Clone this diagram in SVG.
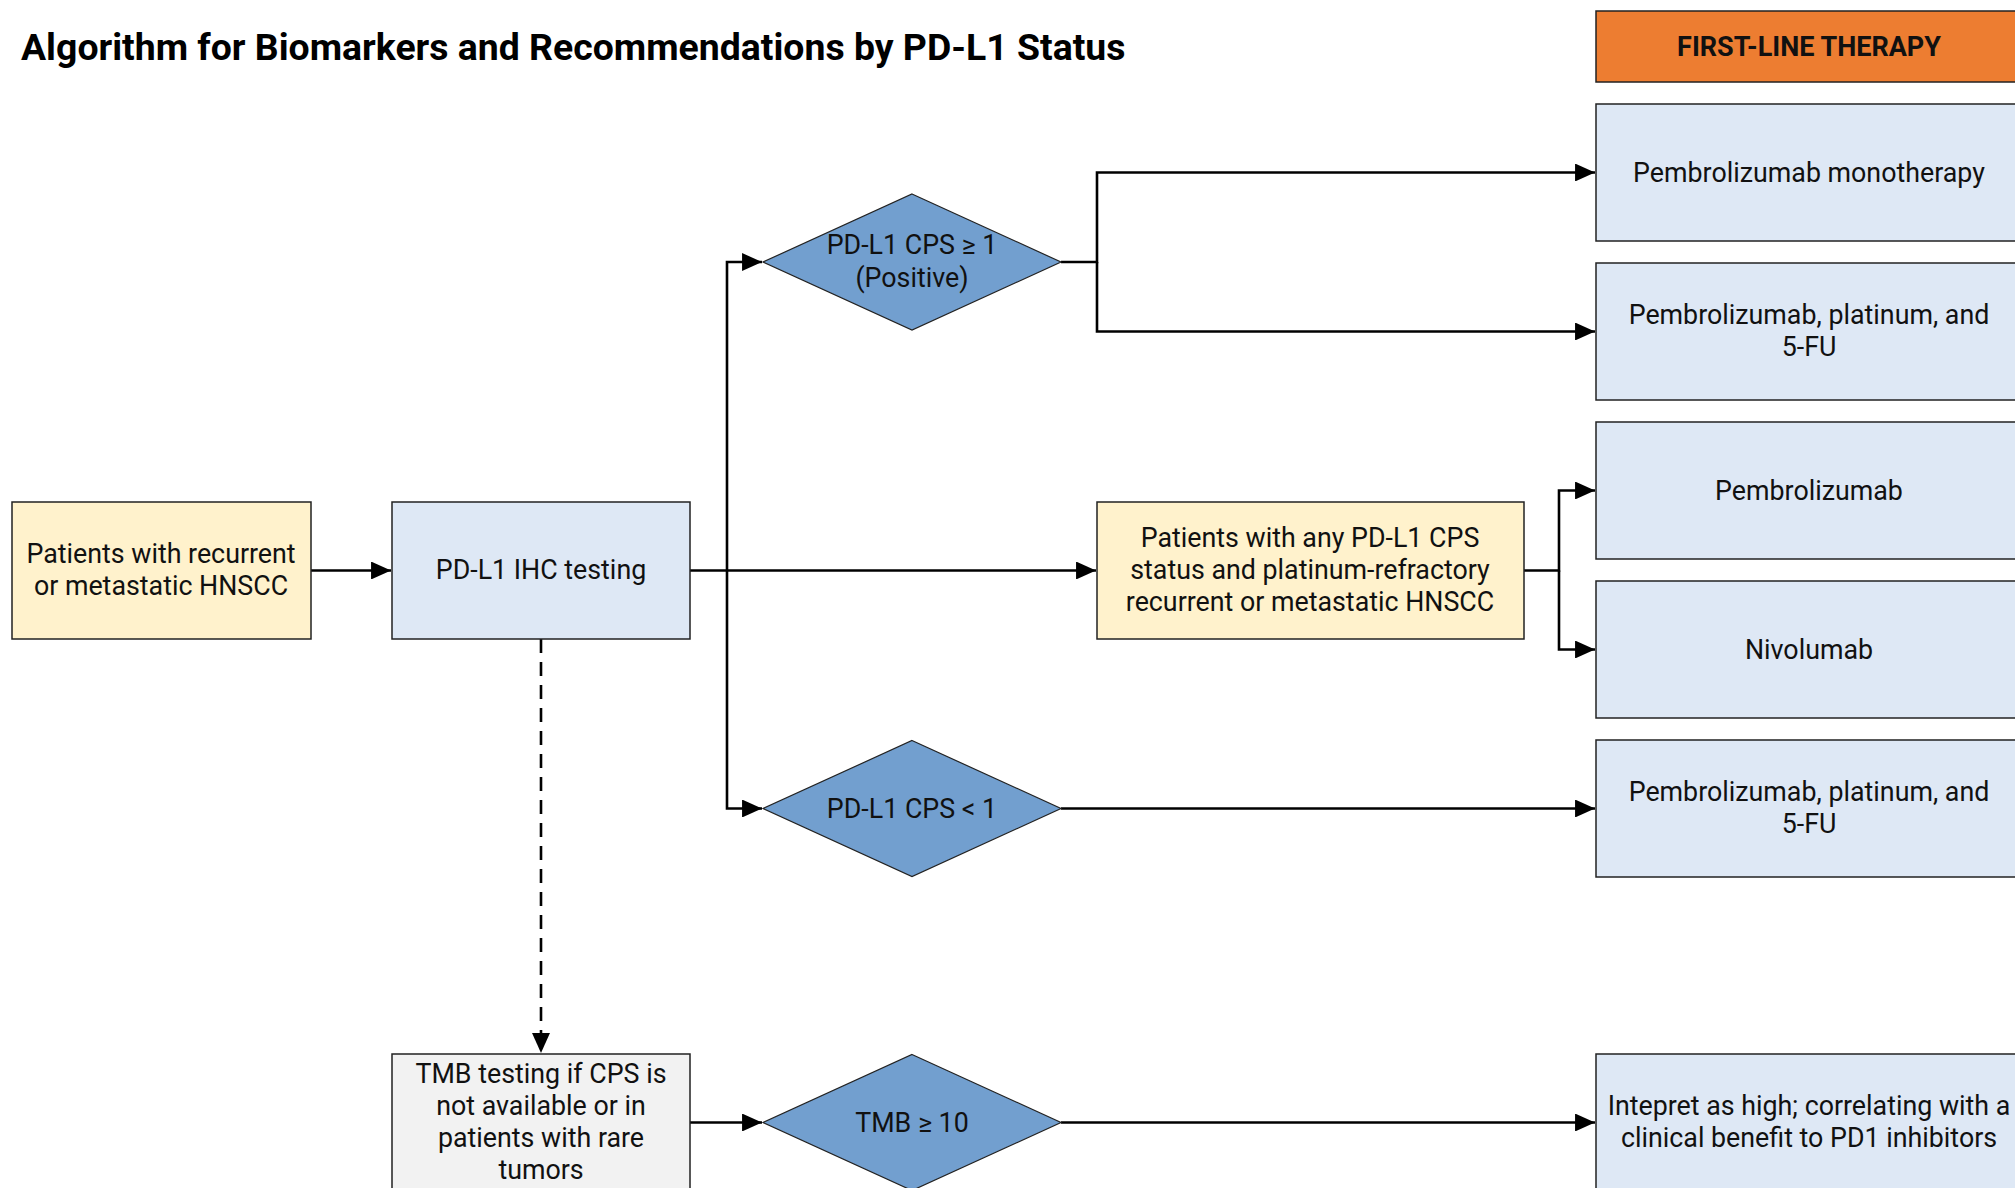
<svg xmlns="http://www.w3.org/2000/svg" width="2015" height="1188" viewBox="0 0 2015 1188">
<style>
.t{font-family:Roboto,"Liberation Sans",sans-serif;font-size:26.8px;fill:#111;text-anchor:middle}
.title{font-family:Roboto,"Liberation Sans",sans-serif;font-size:37.4px;font-weight:bold;fill:#000}
.hdr{font-family:Roboto,"Liberation Sans",sans-serif;font-size:27px;font-weight:bold;fill:#111;text-anchor:middle}
.blue{fill:#dee8f5;stroke:#222;stroke-width:1.5}
.yel{fill:#fff2cc;stroke:#222;stroke-width:1.5}
.grey{fill:#f2f2f2;stroke:#222;stroke-width:1.5}
.dia{fill:#729fcf;stroke:#222;stroke-width:1.2}
.c{fill:none;stroke:#000;stroke-width:2.6}
</style>
<defs>
<marker id="ah" viewBox="0 0 10 9" refX="10" refY="4.5" markerWidth="7.7" markerHeight="6.9" markerUnits="strokeWidth" orient="auto">
<path d="M0,0 L10,4.5 L0,9 z" fill="#000"/>
</marker>
</defs>
<rect width="2015" height="1188" fill="#fff"/>
<text class="title" x="21" y="60">Algorithm for Biomarkers and Recommendations by PD-L1 Status</text>

<g id="connectors">
<path class="c" d="M311,570.5 H391" marker-end="url(#ah)"/>
<path class="c" d="M690,570.5 H1096" marker-end="url(#ah)"/>
<path class="c" d="M727,570.5 V262 H762" marker-end="url(#ah)"/>
<path class="c" d="M727,570.5 V808.5 H762" marker-end="url(#ah)"/>
<path class="c" d="M1061,262 H1097 V172.5 H1595" marker-end="url(#ah)"/>
<path class="c" d="M1097,262 V331.5 H1595" marker-end="url(#ah)"/>
<path class="c" d="M1524,570.5 H1559 V490.5 H1595" marker-end="url(#ah)"/>
<path class="c" d="M1559,570.5 V649.5 H1595" marker-end="url(#ah)"/>
<path class="c" d="M1061,808.5 H1595" marker-end="url(#ah)"/>
<path class="c" d="M541,639 V1053" stroke-dasharray="14,9" marker-end="url(#ah)"/>
<path class="c" d="M690,1122.5 H762" marker-end="url(#ah)"/>
<path class="c" d="M1061,1122.5 H1595" marker-end="url(#ah)"/>
</g>

<g id="header">
<rect x="1596" y="11" width="430" height="71" fill="#ed7d31" stroke="#222" stroke-width="1.5"/>
<text class="hdr" x="1809" y="56">FIRST-LINE THERAPY</text>
</g>

<g id="start">
<rect class="yel" x="12" y="502" width="299" height="137"/>
<text class="t" x="161" y="563">Patients with recurrent</text>
<text class="t" x="161" y="595">or metastatic HNSCC</text>
</g>

<g id="ihc">
<rect class="blue" x="392" y="502" width="298" height="137"/>
<text class="t" x="541" y="579">PD-L1 IHC testing</text>
</g>

<g id="cps-pos">
<polygon class="dia" points="912,194 1061,262 912,330 763,262"/>
<text class="t" x="912" y="254">PD-L1 CPS ≥ 1</text>
<text class="t" x="912" y="287">(Positive)</text>
</g>

<g id="cps-neg">
<polygon class="dia" points="912,740.5 1061,808.5 912,876.5 763,808.5"/>
<text class="t" x="912" y="818">PD-L1 CPS &lt; 1</text>
</g>

<g id="any-cps">
<rect class="yel" x="1097" y="502" width="427" height="137"/>
<text class="t" x="1310" y="547">Patients with any PD-L1 CPS</text>
<text class="t" x="1310" y="579">status and platinum-refractory</text>
<text class="t" x="1310" y="611">recurrent or metastatic HNSCC</text>
</g>

<g id="tmb-test">
<rect class="grey" x="392" y="1054" width="298" height="150"/>
<text class="t" x="541" y="1083">TMB testing if CPS is</text>
<text class="t" x="541" y="1115">not available or in</text>
<text class="t" x="541" y="1147">patients with rare</text>
<text class="t" x="541" y="1179">tumors</text>
</g>

<g id="tmb">
<polygon class="dia" points="912,1054.5 1061,1122.5 912,1190.5 763,1122.5"/>
<text class="t" x="912" y="1132">TMB ≥ 10</text>
</g>

<g id="r1">
<rect class="blue" x="1596" y="104" width="430" height="137"/>
<text class="t" x="1809" y="182">Pembrolizumab monotherapy</text>
</g>
<g id="r2">
<rect class="blue" x="1596" y="263" width="430" height="137"/>
<text class="t" x="1809" y="324">Pembrolizumab, platinum, and</text>
<text class="t" x="1809" y="356">5-FU</text>
</g>
<g id="r3">
<rect class="blue" x="1596" y="422" width="430" height="137"/>
<text class="t" x="1809" y="500">Pembrolizumab</text>
</g>
<g id="r4">
<rect class="blue" x="1596" y="581" width="430" height="137"/>
<text class="t" x="1809" y="659">Nivolumab</text>
</g>
<g id="r5">
<rect class="blue" x="1596" y="740" width="430" height="137"/>
<text class="t" x="1809" y="801">Pembrolizumab, platinum, and</text>
<text class="t" x="1809" y="833">5-FU</text>
</g>
<g id="r6">
<rect class="blue" x="1596" y="1054" width="430" height="150"/>
<text class="t" x="1809" y="1115">Intepret as high; correlating with a</text>
<text class="t" x="1809" y="1147">clinical benefit to PD1 inhibitors</text>
</g>
</svg>
